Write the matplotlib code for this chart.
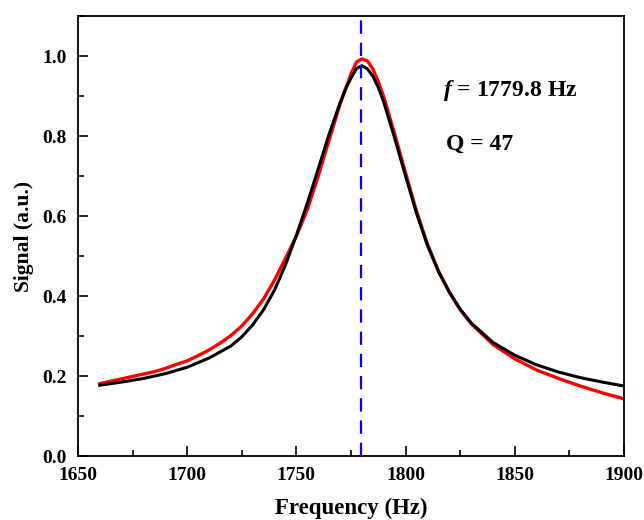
import matplotlib
matplotlib.use("Agg")
from matplotlib import pyplot as plt
from matplotlib.ticker import MultipleLocator, FormatStrFormatter

plt.rcParams["font.family"] = "Liberation Serif"
plt.rcParams["font.weight"] = "bold"
plt.rcParams["mathtext.fontset"] = "custom"
plt.rcParams["mathtext.it"] = "Liberation Serif:italic:bold"
plt.rcParams["mathtext.rm"] = "Liberation Serif:bold"

# measured response (red)
freq_meas = [1660, 1665, 1670, 1675, 1680, 1685, 1690, 1695, 1700, 1705,
             1710, 1715, 1720, 1725, 1730, 1735, 1740, 1745, 1750, 1755,
             1760, 1765, 1770, 1775, 1777.5, 1780, 1782.5, 1785, 1787.5, 1790,
             1795, 1800, 1805, 1810, 1815, 1820, 1825, 1830, 1840, 1850,
             1860, 1870, 1880, 1890, 1900]
sig_meas = [0.181, 0.187, 0.193, 0.199, 0.205, 0.211, 0.219, 0.229, 0.238, 0.251,
            0.265, 0.282, 0.301, 0.325, 0.356, 0.393, 0.440, 0.494, 0.550, 0.616,
            0.700, 0.790, 0.880, 0.955, 0.985, 0.993, 0.988, 0.968, 0.936, 0.898,
            0.805, 0.708, 0.612, 0.530, 0.463, 0.410, 0.366, 0.331, 0.279, 0.243,
            0.215, 0.194, 0.175, 0.158, 0.143]

# fitted curve (black)
freq_fit = [1660, 1670, 1680, 1690, 1700, 1710, 1720, 1725, 1730, 1735,
            1740, 1745, 1750, 1755, 1760, 1765, 1770, 1772.5, 1775, 1777.5,
            1780, 1782.5, 1785, 1787.5, 1790, 1795, 1800, 1805, 1810, 1815,
            1820, 1825, 1830, 1840, 1850, 1860, 1870, 1880, 1890, 1900]
sig_fit = [0.177, 0.185, 0.194, 0.206, 0.222, 0.245, 0.275, 0.298, 0.328, 0.366,
           0.415, 0.478, 0.552, 0.632, 0.718, 0.805, 0.883, 0.918, 0.945, 0.969,
           0.976, 0.968, 0.950, 0.922, 0.885, 0.795, 0.700, 0.607, 0.527, 0.462,
           0.410, 0.367, 0.333, 0.284, 0.252, 0.228, 0.210, 0.196, 0.185, 0.175]

f_res = 1779.8
q_factor = 47

fig = plt.figure(figsize=(6.44, 5.20), dpi=100)
ax = fig.add_axes([0.121, 0.123, 0.848, 0.846])

ax.plot(freq_meas, sig_meas, color="#ff0000", lw=2.4, zorder=2)
ax.plot(freq_fit, sig_fit, color="black", lw=2.2, zorder=3)
ax.axvline(f_res, color="#0000ff", lw=1.6, dashes=(6, 4), zorder=4)

ax.set_xlim(1650, 1900)
ax.set_ylim(0, 1.1)
ax.xaxis.set_major_locator(MultipleLocator(50))
ax.xaxis.set_minor_locator(MultipleLocator(25))
ax.yaxis.set_major_locator(MultipleLocator(0.2))
ax.yaxis.set_minor_locator(MultipleLocator(0.1))
ax.yaxis.set_major_formatter(FormatStrFormatter("%.1f"))
ax.tick_params(which="both", direction="in", width=1.2, labelsize=14, pad=8)
ax.tick_params(which="major", length=7)
ax.tick_params(which="minor", length=4)
for s in ax.spines.values():
    s.set_linewidth(1.3)

ax.set_xlabel("Frequency (Hz)", fontsize=16.5, fontweight="bold", labelpad=10)
ax.set_ylabel("Signal (a.u.)", fontsize=15.5, fontweight="bold", labelpad=6)

ax.text(1817, 0.915, r"$f$" + " = %.1f Hz" % f_res, fontsize=17,
        fontweight="bold", va="center")
ax.text(1818.5, 0.78, "Q = %d" % q_factor, fontsize=17, fontweight="bold",
        va="center")

plt.savefig("out.png", dpi=100)
